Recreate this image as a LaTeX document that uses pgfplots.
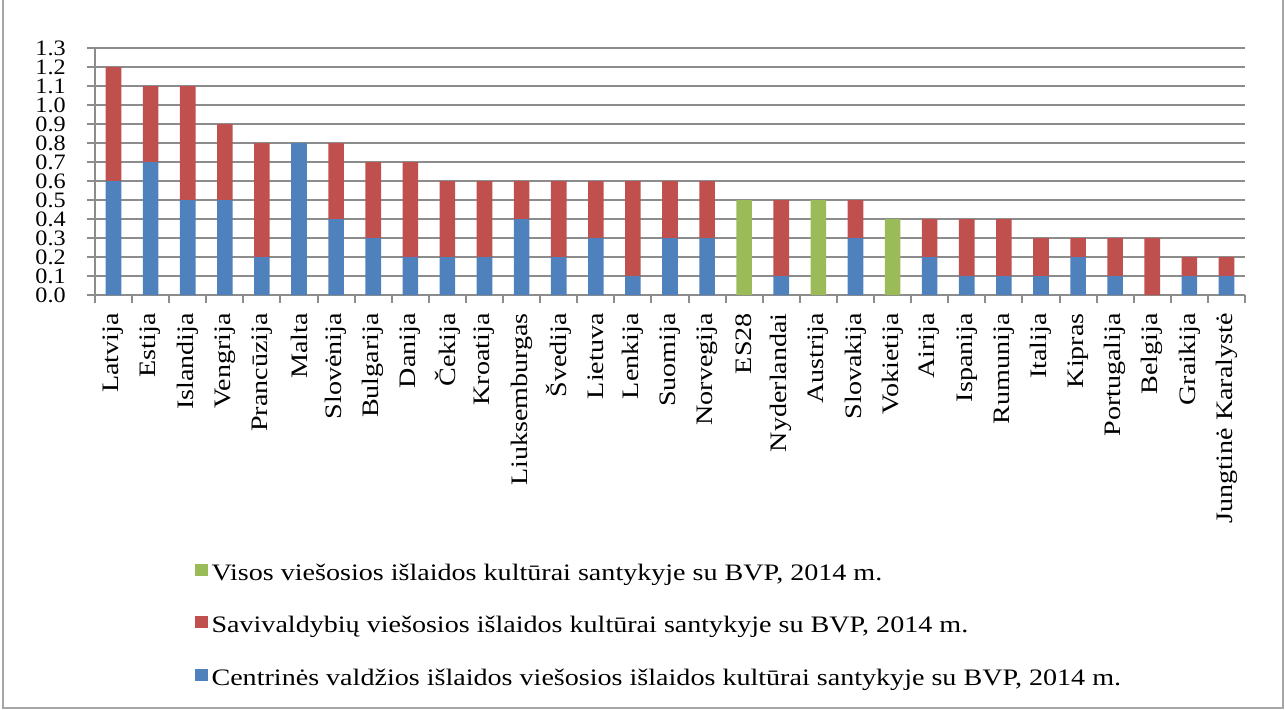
\documentclass[border=0pt]{standalone}
\usepackage{fontspec}
\setmainfont[FakeStretch=1.19]{Liberation Serif}
\newfontfamily\tickfont[FakeStretch=1.1]{Liberation Serif}
\usepackage{pgfplots}
\pgfplotsset{compat=1.18}
\definecolor{cblue}{HTML}{4F81BD}
\definecolor{cred}{HTML}{C0504D}
\definecolor{cgreen}{HTML}{9BBB59}
\definecolor{gridgray}{HTML}{8C8C8C}
\begin{document}
\fontsize{11.8}{14}\selectfont
\begin{tikzpicture}
\path[use as bounding box] (0,0) rectangle (642.5pt,354.5pt);
\draw[black!35, line width=1pt] (1.5pt,0.5pt) rectangle (641.5pt,355pt);
\begin{axis}[
  at={(47.5pt,207pt)}, anchor=south west,
  scale only axis, width=575pt, height=123.5pt,
  ybar stacked, bar width=7.8pt,
  xmin=-0.5, xmax=30.5, ymin=0, ymax=1.3,
  axis x line*=bottom, axis y line*=left,
  axis line style={gridgray, line width=1pt},
  ymajorgrids, grid style={gridgray, line width=1.1pt},
  ytick={0,0.1,0.2,0.3,0.4,0.5,0.6,0.7,0.8,0.9,1.0,1.1,1.2,1.3},
  yticklabel style={font=\tickfont\fontsize{11}{13}\selectfont, xshift=-6.5pt,
    text height=7.4pt, text depth=0pt, inner ysep=0.5pt,
    /pgf/number format/fixed, /pgf/number format/fixed zerofill,
    /pgf/number format/precision=1, /pgf/number format/assume math mode=true},
  ytick style={gridgray, line width=1pt},
  tick align=outside, major tick length=4pt,
  xtick={0,...,30},
  xticklabels={Latvija,Estija,Islandija,Vengrija,Prancūzija,Malta,Slovėnija,Bulgarija,Danija,Čekija,Kroatija,Liuksemburgas,Švedija,Lietuva,Lenkija,Suomija,Norvegija,ES28,Nyderlandai,Austrija,Slovakija,Vokietija,Airija,Ispanija,Rumunija,Italija,Kipras,Portugalija,Belgija,Graikija,Jungtinė Karalystė},
  xticklabel style={rotate=90, anchor=east, font=\fontsize{11.8}{14}\selectfont, xshift=-1pt},
  major x tick style={draw=none},
  minor xtick={-0.5,0.5,...,30.5},
  minor x tick style={gridgray, line width=1pt},
  minor tick length=4pt,
  legend style={at={(0.081,-1.054)}, anchor=north west, draw=none, fill=none,
    font=\fontsize{11.8}{14}\selectfont, row sep=12.3pt},
  legend cell align=left,
  reverse legend,
  legend image code/.code={\fill[#1] (0pt,-1pt) rectangle (6.5pt,5pt);},
  clip=false,
]
\addplot+[fill=cblue, draw=none] coordinates {
(0,0.6) (1,0.7) (2,0.5) (3,0.5) (4,0.2) (5,0.8) (6,0.4) (7,0.3) (8,0.2) (9,0.2)
(10,0.2) (11,0.4) (12,0.2) (13,0.3) (14,0.1) (15,0.3) (16,0.3) (17,0) (18,0.1) (19,0)
(20,0.3) (21,0) (22,0.2) (23,0.1) (24,0.1) (25,0.1) (26,0.2) (27,0.1) (28,0) (29,0.1) (30,0.1)};
\addlegendentry{Centrinės valdžios išlaidos viešosios išlaidos kultūrai santykyje su BVP, 2014 m.}
\addplot+[fill=cred, draw=none] coordinates {
(0,0.6) (1,0.4) (2,0.6) (3,0.4) (4,0.6) (5,0) (6,0.4) (7,0.4) (8,0.5) (9,0.4)
(10,0.4) (11,0.2) (12,0.4) (13,0.3) (14,0.5) (15,0.3) (16,0.3) (17,0) (18,0.4) (19,0)
(20,0.2) (21,0) (22,0.2) (23,0.3) (24,0.3) (25,0.2) (26,0.1) (27,0.2) (28,0.3) (29,0.1) (30,0.1)};
\addlegendentry{Savivaldybių viešosios išlaidos kultūrai santykyje su BVP, 2014 m.}
\addplot+[fill=cgreen, draw=none] coordinates {
(0,0) (1,0) (2,0) (3,0) (4,0) (5,0) (6,0) (7,0) (8,0) (9,0)
(10,0) (11,0) (12,0) (13,0) (14,0) (15,0) (16,0) (17,0.5) (18,0) (19,0.5)
(20,0) (21,0.4) (22,0) (23,0) (24,0) (25,0) (26,0) (27,0) (28,0) (29,0) (30,0)};
\addlegendentry{Visos viešosios išlaidos kultūrai santykyje su BVP, 2014 m.}
\end{axis}
\end{tikzpicture}
\end{document}
